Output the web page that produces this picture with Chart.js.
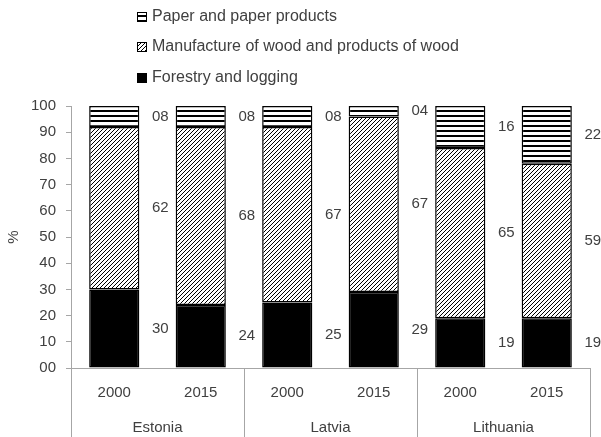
<!DOCTYPE html>
<html>
<head>
<meta charset="utf-8">
<script src="https://cdn.jsdelivr.net/npm/chart.js@4"></script>
<style>
  html, body { margin: 0; padding: 0; background: #fff; }
  #wrap { width: 601px; height: 437px; }
</style>
</head>
<body>
<div id="wrap"><canvas id="chart" width="601" height="437"></canvas></div>
<script>
// data
const countries = ['Estonia', 'Latvia', 'Lithuania'];
const years = ['2000', '2015', '2000', '2015', '2000', '2015'];
const forestry = [30, 24, 25, 29, 19, 19];
const manufacture = [62, 68, 67, 67, 65, 59];
const paper = [8, 8, 8, 4, 16, 22];
const yTicks = [0, 10, 20, 30, 40, 50, 60, 70, 80, 90, 100];

const FONT = 'Liberation Sans';
const TEXT = '#404040';
const AXIS = '#a6a6a6';

function pad2(v) {
  return String(v).padStart(2, '0');
}

function hatchPattern() {
  const c = document.createElement('canvas');
  c.width = 4; c.height = 4;
  const g = c.getContext('2d');
  g.fillStyle = '#fff';
  g.fillRect(0, 0, 4, 4);
  g.strokeStyle = '#000';
  g.lineWidth = 1;
  g.beginPath();
  g.moveTo(-1, 5); g.lineTo(5, -1);
  g.moveTo(-1, 1); g.lineTo(1, -1);
  g.moveTo(3, 5); g.lineTo(5, 3);
  g.stroke();
  return g.createPattern(c, 'repeat');
}

function stripePattern() {
  const c = document.createElement('canvas');
  c.width = 4; c.height = 5;
  const g = c.getContext('2d');
  g.fillStyle = '#fff';
  g.fillRect(0, 0, 4, 5);
  g.fillStyle = '#000';
  g.fillRect(0, 0, 4, 2);
  return g.createPattern(c, 'repeat');
}

const fills = [hatchPattern(), stripePattern()];

// value labels right of each segment
const valueLabels = {
  id: 'valueLabels',
  afterDatasetsDraw(chart) {
    const ctx = chart.ctx;
    ctx.save();
    ctx.font = '15px ' + FONT;
    ctx.fillStyle = TEXT;
    ctx.textAlign = 'center';
    ctx.textBaseline = 'middle';
    chart.data.datasets.forEach((ds, di) => {
      const meta = chart.getDatasetMeta(di);
      meta.data.forEach((bar, i) => {
        const y = (bar.y + bar.base) / 2;
        ctx.fillText(pad2(ds.data[i]), bar.x + bar.width / 2 + 21, y);
      });
    });
    ctx.restore();
  }
};

// country level of the x axis + separators
const groupAxis = {
  id: 'groupAxis',
  afterDraw(chart) {
    const ctx = chart.ctx;
    const x = chart.scales.x;
    const top = chart.chartArea.bottom;
    const n = years.length / countries.length;
    const step = (x.right - x.left) / years.length;
    ctx.save();
    ctx.strokeStyle = AXIS;
    ctx.lineWidth = 1;
    ctx.beginPath();
    for (let k = 0; k <= countries.length; k++) {
      const px = Math.round(x.left + k * n * step) + 0.5;
      ctx.moveTo(px, top);
      ctx.lineTo(px, chart.height);
    }
    ctx.stroke();
    ctx.font = '15px ' + FONT;
    ctx.fillStyle = TEXT;
    ctx.textAlign = 'center';
    ctx.textBaseline = 'middle';
    countries.forEach((c, k) => {
      ctx.fillText(c, x.left + (k + 0.5) * n * step, 428);
    });
    ctx.restore();
  }
};

// vertical legend at the top
const topLegend = {
  id: 'topLegend',
  afterDraw(chart) {
    const ctx = chart.ctx;
    const rows = [17, 47, 78];
    const order = [2, 1, 0];
    ctx.save();
    ctx.font = '16px ' + FONT;
    ctx.textBaseline = 'middle';
    order.forEach((di, r) => {
      const ds = chart.data.datasets[di];
      const y = rows[r];
      ctx.fillStyle = ds.backgroundColor;
      ctx.fillRect(137, y - 5, 10, 10);
      ctx.strokeStyle = '#000';
      ctx.lineWidth = 1;
      ctx.strokeRect(137.5, y - 4.5, 9, 9);
      ctx.fillStyle = TEXT;
      ctx.fillText(ds.label, 152, y);
    });
    ctx.restore();
  }
};

new Chart(document.getElementById('chart'), {
  type: 'bar',
  data: {
    labels: years,
    datasets: [
      { label: 'Forestry and logging', data: forestry, backgroundColor: '#000' },
      { label: 'Manufacture of wood and products of wood', data: manufacture, backgroundColor: fills[0] },
      { label: 'Paper and paper products', data: paper, backgroundColor: fills[1] }
    ]
  },
  options: {
    responsive: false,
    animation: false,
    layout: { padding: { top: 106, right: 11, left: 0, bottom: 0 } },
    datasets: {
      bar: {
        borderColor: '#000',
        borderWidth: 1.5,
        borderSkipped: false,
        barPercentage: 0.58,
        categoryPercentage: 1
      }
    },
    plugins: {
      legend: { display: false },
      tooltip: { enabled: false }
    },
    scales: {
      x: {
        stacked: true,
        grid: { display: false },
        border: { display: true, color: AXIS },
        ticks: { color: TEXT, font: { family: FONT, size: 15 }, padding: 8 },
        afterFit(s) { s.height = 69; }
      },
      y: {
        stacked: true,
        min: 0,
        max: 100,
        afterBuildTicks(s) { s.ticks = yTicks.map(v => ({ value: v })); },
        grid: { drawOnChartArea: false, tickLength: 5, color: AXIS },
        border: { display: true, color: AXIS },
        ticks: {
          color: TEXT,
          font: { family: FONT, size: 15 },
          padding: 10,
          callback: v => pad2(v)
        },
        title: {
          display: true,
          text: '%',
          color: TEXT,
          font: { family: FONT, size: 15 },
          padding: { top: 5, bottom: 0 }
        },
        afterFit(s) { s.width = 71; }
      }
    }
  },
  plugins: [valueLabels, groupAxis, topLegend]
});
</script>
</body>
</html>
